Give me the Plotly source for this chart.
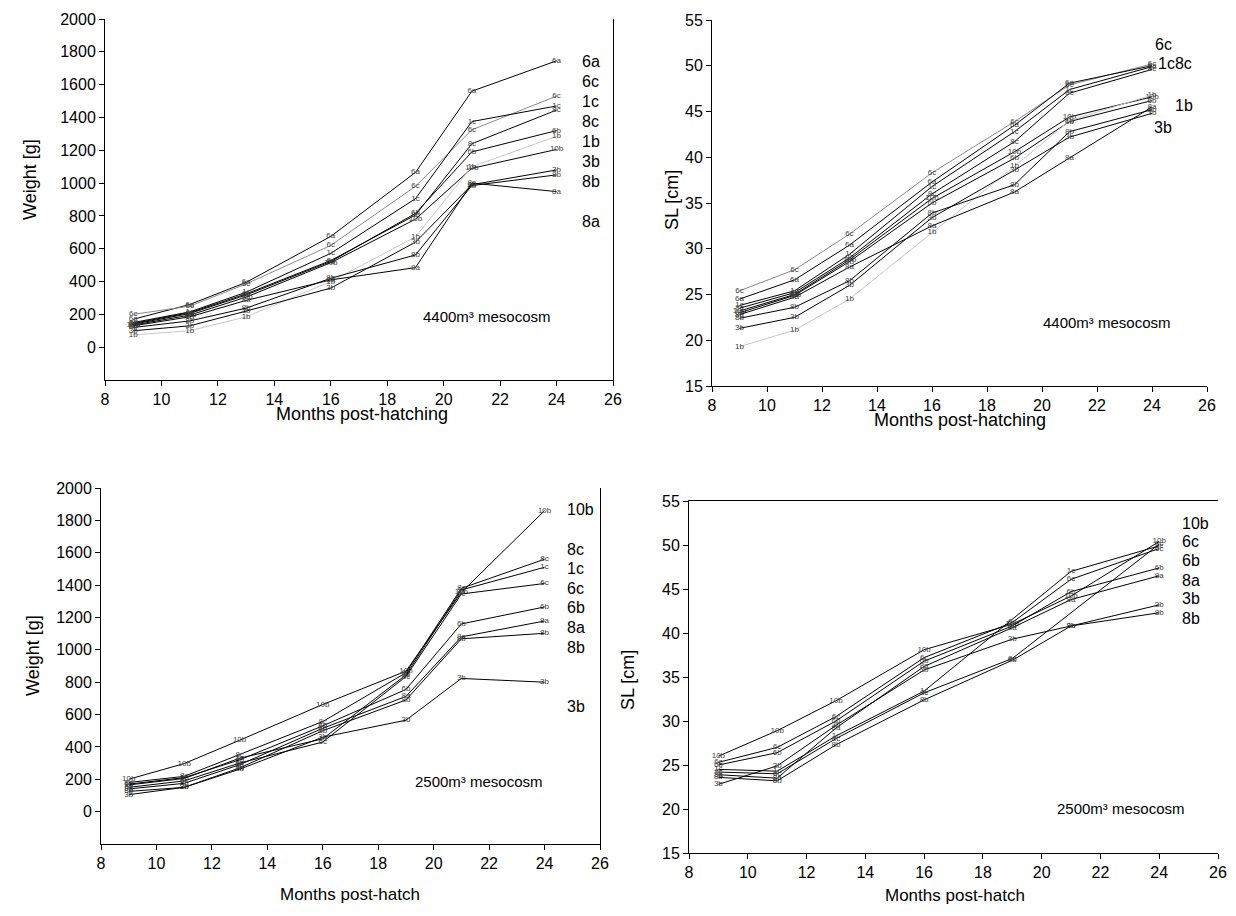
import plotly.graph_objects as go

# ---------------- data ----------------
months = [9, 11, 13, 16, 19, 21, 24]

# Top-left: weight [g], 4400 m3 mesocosm
w44_6a = [170, 260, 395, 675, 1065, 1560, 1745]
w44_6c = [200, 250, 385, 620, 980, 1325, 1530]
w44_1c = [150, 215, 335, 572, 905, 1375, 1470]
w44_8c = [145, 210, 325, 528, 805, 1240, 1445]
w44_6b = [140, 205, 318, 522, 815, 1190, 1320]
w44_10b = [135, 195, 305, 515, 780, 1090, 1205]
w44_1b = [75, 100, 185, 400, 672, 1100, 1285]
w44_3b = [100, 130, 220, 360, 640, 990, 1080]
w44_8b = [120, 160, 238, 420, 562, 985, 1050]
w44_8a = [130, 185, 285, 410, 485, 1000, 948]

# Top-right: SL [cm], 4400 m3 mesocosm
s44_6c = [25.4, 27.7, 31.6, 38.3, 43.9, 47.9, 50.2]
s44_6a = [24.5, 26.6, 30.4, 37.3, 43.5, 48.1, 50.0]
s44_1c = [23.8, 25.4, 29.4, 36.8, 42.8, 47.4, 49.9]
s44_8c = [23.5, 25.2, 29.0, 36.0, 41.7, 47.0, 49.6]
s44_10b = [23.2, 25.0, 28.8, 35.5, 40.6, 44.4, 46.6]
s44_6b = [23.0, 24.9, 28.6, 35.0, 39.9, 43.9, 46.2]
s44_1b = [19.3, 21.1, 24.5, 31.8, 39.0, 44.0, 46.8]
s44_3b = [21.3, 22.5, 26.0, 33.4, 38.6, 42.2, 44.8]
s44_8b = [22.4, 23.6, 26.5, 33.9, 37.0, 42.8, 45.2]
s44_8a = [22.8, 24.7, 28.0, 32.5, 36.2, 39.9, 45.5]

# Bottom-left: weight [g], 2500 m3 mesocosm
w25_10b = [200, 297, 441, 662, 868, 1355, 1860]
w25_8c = [180, 218, 353, 557, 858, 1380, 1560]
w25_1c = [165, 205, 330, 450, 845, 1370, 1510]
w25_6c = [150, 190, 300, 430, 835, 1345, 1410]
w25_6b = [170, 210, 320, 530, 755, 1160, 1265]
w25_8a = [140, 175, 290, 515, 712, 1080, 1178]
w25_8b = [125, 150, 270, 500, 690, 1068, 1102]
w25_3b = [105, 150, 262, 460, 565, 823, 800]

# Bottom-right: SL [cm], 2500 m3 mesocosm (None = no measurement)
s25_10b = [26.0, 28.9, 32.3, 38.1, 41.0, 44.2, 50.4]
s25_1c = [24.5, 24.3, 28.3, 33.4, None, 47.0, 49.9]
s25_6c = [25.3, 27.0, 30.5, 37.2, 41.2, 46.1, 49.6]
s25_8c = [24.2, 24.0, 28.0, 33.2, 37.1, None, 50.1]
s25_6b = [25.0, 26.4, 30.0, 36.8, 40.8, 44.7, 47.4]
s25_8a = [23.9, 23.5, 29.2, 36.2, 40.6, 43.8, 46.5]
s25_3b = [22.8, 24.9, 29.5, 35.8, 39.3, 40.8, 43.2]
s25_8b = [23.6, 23.2, 27.3, 32.4, 36.9, 40.8, 42.3]

# right-hand key labels (text, value)
key_tl = [("6a", 1742), ("6c", 1620), ("1c", 1498), ("8c", 1376), ("1b", 1254),
          ("3b", 1132), ("8b", 1009), ("8a", 765)]
key_tr = [("6c", 52.3), ("1c8c", 50.2), ("1b", 45.7), ("3b", 43.3)]
key_bl = [("10b", 1865), ("8c", 1622), ("1c", 1504), ("6c", 1380), ("6b", 1263),
          ("8a", 1139), ("8b", 1015), ("3b", 650)]
key_br = [("10b", 52.5), ("6c", 50.4), ("6b", 48.2), ("8a", 46.0), ("3b", 43.9), ("8b", 41.7)]

x_ticks = [8, 10, 12, 14, 16, 18, 20, 22, 24, 26]
w_ticks = [0, 200, 400, 600, 800, 1000, 1200, 1400, 1600, 1800, 2000]
s_ticks = [15, 20, 25, 30, 35, 40, 45, 50, 55]

# ---------------- figure ----------------
FONT = "Arial, Liberation Sans, Helvetica, sans-serif"
PAGE_MARGIN = 8          # default body margin of the html page
W, H = 1236 - 2 * PAGE_MARGIN, 916 - 2 * PAGE_MARGIN

panels = {
    "tl": dict(series=[("6a", w44_6a), ("6c", w44_6c), ("1c", w44_1c), ("8c", w44_8c),
                       ("6b", w44_6b), ("10b", w44_10b), ("1b", w44_1b), ("3b", w44_3b),
                       ("8b", w44_8b), ("8a", w44_8a)], ax=("x", "y")),
    "tr": dict(series=[("6c", s44_6c), ("6a", s44_6a), ("1c", s44_1c), ("8c", s44_8c),
                       ("10b", s44_10b), ("6b", s44_6b), ("1b", s44_1b), ("3b", s44_3b),
                       ("8b", s44_8b), ("8a", s44_8a)], ax=("x2", "y2")),
    "bl": dict(series=[("10b", w25_10b), ("8c", w25_8c), ("1c", w25_1c), ("6c", w25_6c),
                       ("6b", w25_6b), ("8a", w25_8a), ("8b", w25_8b), ("3b", w25_3b)],
               ax=("x3", "y3")),
    "br": dict(series=[("10b", s25_10b), ("1c", s25_1c), ("6c", s25_6c), ("8c", s25_8c),
                       ("6b", s25_6b), ("8a", s25_8a), ("3b", s25_3b), ("8b", s25_8b)],
               ax=("x4", "y4")),
}

def line_color(panel, name):
    if panel in ("tl", "tr"):
        if name == "6c":
            return "#8a8a8a"
        if name == "1b":
            return "#c8c8c8"
    return "#000000"

fig = go.Figure()
for pk, p in panels.items():
    xa, ya = p["ax"]
    for name, vals in p["series"]:
        fig.add_trace(go.Scatter(
            x=months, y=vals, mode="lines+text", text=[name] * len(months),
            textposition="middle center",
            textfont=dict(family=FONT, size=8, color="#404040"),
            line=dict(color=line_color(pk, name), width=1),
            connectgaps=True, showlegend=False, cliponaxis=False,
            xaxis=xa, yaxis=ya, hoverinfo="skip"))

def px_x(px):
    return (px - PAGE_MARGIN) / W

def px_y(py):
    return 1 - (py - PAGE_MARGIN) / H

axis_common = dict(showline=True, linecolor="#000000", linewidth=1, ticks="outside",
                   ticklen=5, tickwidth=1, tickcolor="#000000", showgrid=False,
                   zeroline=False, tickfont=dict(family=FONT, size=16, color="#000000"))

layout = dict(
    width=W, height=H, margin=dict(l=0, r=0, t=0, b=0, autoexpand=False),
    paper_bgcolor="white", plot_bgcolor="white", showlegend=False,
    font=dict(family=FONT, color="#000000"),
    # top-left
    xaxis=dict(domain=[px_x(105), px_x(613)], range=[8, 26], tickvals=x_ticks,
               anchor="y", **axis_common),
    yaxis=dict(domain=[px_y(380), px_y(19)], range=[-200, 2000], tickvals=w_ticks,
               anchor="x", mirror=True, **axis_common),
    # top-right
    xaxis2=dict(domain=[px_x(712), px_x(1207)], range=[8, 26], tickvals=x_ticks,
                anchor="y2", **axis_common),
    yaxis2=dict(domain=[px_y(386), px_y(20)], range=[15, 55], tickvals=s_ticks,
                anchor="x2", **axis_common),
    # bottom-left
    xaxis3=dict(domain=[px_x(101), px_x(600)], range=[8, 26], tickvals=x_ticks,
                anchor="y3", **axis_common),
    yaxis3=dict(domain=[px_y(844), px_y(488)], range=[-200, 2000], tickvals=w_ticks,
                anchor="x3", mirror=True, **axis_common),
    # bottom-right
    xaxis4=dict(domain=[px_x(689), px_x(1218)], range=[8, 26], tickvals=x_ticks,
                anchor="y4", mirror=True, **axis_common),
    yaxis4=dict(domain=[px_y(853), px_y(501)], range=[15, 55], tickvals=s_ticks,
                anchor="x4", **axis_common),
)
fig.update_layout(**layout)

ann = []
def key(items, xr, yr, xpos):
    for t, v in items:
        ann.append(dict(text=t, x=xpos, y=v, xref=xr, yref=yr, xanchor="left",
                        yanchor="middle", showarrow=False,
                        font=dict(family=FONT, size=16, color="#000000")))

key(key_tl, "x", "y", 24.83)
key(key_bl, "x3", "y3", 24.75)
key(key_br, "x4", "y4", 24.7)
for (t, v), xpos in zip(key_tr, [24.04, 24.15, 24.76, 24.0]):
    ann.append(dict(text=t, x=xpos, y=v, xref="x2", yref="y2", xanchor="left",
                    yanchor="middle", showarrow=False,
                    font=dict(family=FONT, size=16, color="#000000")))

def paper_text(t, cx, cy, size, angle=0):
    ann.append(dict(text=t, x=px_x(cx), y=px_y(cy), xref="paper", yref="paper",
                    xanchor="center", yanchor="middle", showarrow=False, textangle=angle,
                    font=dict(family=FONT, size=size, color="#000000")))

paper_text("4400m³ mesocosm", 487, 317, 15)
paper_text("4400m³ mesocosm", 1107, 322, 15)
paper_text("2500m³ mesocosm", 479, 781, 15)
paper_text("2500m³ mesocosm", 1121, 808, 15)

paper_text("Weight [g]", 30, 180, 18, -90)
paper_text("SL [cm]", 672, 200, 18, -90)
paper_text("Weight [g]", 33, 655, 18, -90)
paper_text("SL [cm]", 628, 680, 18, -90)

paper_text("Months post-hatching", 362, 414, 18)
paper_text("Months post-hatching", 960, 420, 18)
paper_text("Months post-hatch", 350, 894, 17)
paper_text("Months post-hatch", 955, 895, 17)

fig.update_layout(annotations=ann)
fig.write_html("out.html")
